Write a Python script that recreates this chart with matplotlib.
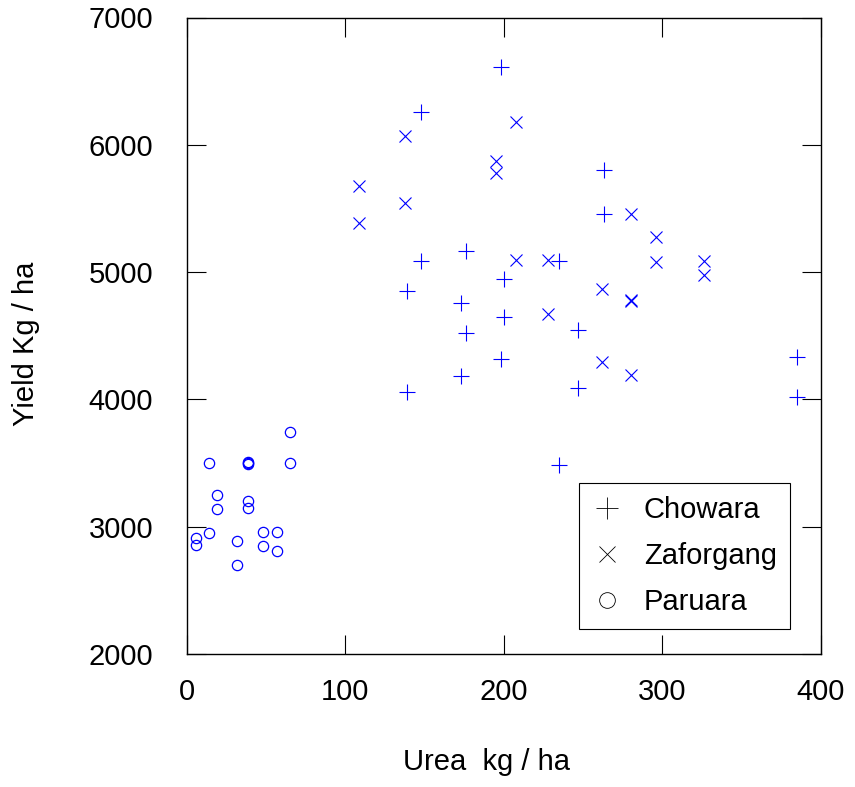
import matplotlib
matplotlib.use("Agg")
import matplotlib.pyplot as plt
from matplotlib.lines import Line2D

plt.rcParams['font.family'] = ['Liberation Sans', 'DejaVu Sans']

# Chowara (+)
chowara_x = [198, 148, 148, 176, 200, 235, 139, 173, 200, 176, 198, 173, 139, 235, 247, 247, 263, 263, 385, 385]
chowara_y = [6615, 6260, 5090, 5165, 4945, 5090, 4855, 4755, 4645, 4520, 4320, 4185, 4055, 3485, 4545, 4090, 5805, 5455, 4335, 4020]

# Zaforgang (x)
zafor_x = [138, 208, 195, 195, 109, 138, 109, 208, 228, 228, 280, 296, 296, 326, 326, 262, 280, 280, 262, 280]
zafor_y = [6070, 6180, 5870, 5775, 5675, 5545, 5385, 5095, 5095, 4670, 5455, 5275, 5080, 5090, 4980, 4865, 4780, 4775, 4290, 4195]

# Paruara (o)
paru_x = [65, 14, 39, 39, 39, 65, 19, 19, 39, 39, 14, 6, 6, 32, 32, 48, 48, 57, 57]
paru_y = [3740, 3500, 3500, 3495, 3505, 3500, 3250, 3140, 3200, 3150, 2950, 2910, 2855, 2885, 2700, 2955, 2850, 2955, 2810]

series_names = ["Chowara", "Zaforgang", "Paruara"]

W, H = 855, 787
fig = plt.figure(figsize=(W / 100, H / 100), dpi=100)
L, R, T, B = 186.5, 821, 17.5, 654
ax = fig.add_axes([L / W, (H - B) / H, (R - L) / W, (B - T) / H])

blue = (0, 0, 1)
ax.plot(chowara_x, chowara_y, linestyle='none', marker='+', markersize=12, markeredgewidth=0.8, color=blue)
ax.plot(zafor_x, zafor_y, linestyle='none', marker='x', markersize=8.6, markeredgewidth=0.8, color=blue)
ax.plot(paru_x, paru_y, linestyle='none', marker='o', markersize=7.4, markeredgewidth=0.9,
        markerfacecolor='none', markeredgecolor=blue)

ax.set_xlim(0, 400)
ax.set_ylim(2000, 7000)
ax.set_xticks([0, 100, 200, 300, 400])
ax.set_yticks([2000, 3000, 4000, 5000, 6000, 7000])
ax.tick_params(direction='in', length=13.8, width=0.8, top=True, right=True, labelsize=21, colors='black')
ax.tick_params(axis='x', pad=17)
ax.tick_params(axis='y', pad=24)
for s in ax.spines.values():
    s.set_linewidth(1.0)

ax.set_xlabel("Urea  kg / ha", fontsize=21)
ax.set_ylabel("Yield Kg / ha", fontsize=21)
ax.xaxis.label.set_va('center')
ax.yaxis.label.set_va('center')
ax.xaxis.set_label_coords((486.5 - L) / (R - L), (B - 762) / (B - T))
ax.yaxis.set_label_coords((26 - L) / (R - L), (B - 343.5) / (B - T))

handles = [
    Line2D([], [], linestyle='none', marker='+', markersize=16.5, markeredgewidth=0.6, color='black'),
    Line2D([], [], linestyle='none', marker='x', markersize=11.5, markeredgewidth=0.6, color='black'),
    Line2D([], [], linestyle='none', marker='o', markersize=11.3, markeredgewidth=0.6,
           markerfacecolor='none', markeredgecolor='black'),
]
leg = ax.legend(handles, series_names, loc='upper left',
                bbox_to_anchor=((579 - L) / (R - L), (B - 483) / (B - T)),
                fontsize=21, frameon=True, fancybox=False, edgecolor='black', framealpha=1,
                borderpad=0.45, labelspacing=0.62, handlelength=1.05, handletextpad=0.72,
                borderaxespad=0.0)
leg.get_frame().set_linewidth(0.8)

fig.savefig("out.png", dpi=100)
